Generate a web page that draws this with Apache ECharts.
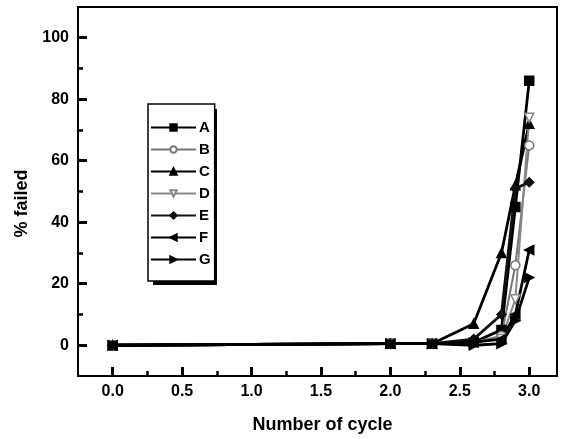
<!DOCTYPE html>
<html><head><meta charset="utf-8">
<script src="https://cdn.jsdelivr.net/npm/echarts@6/dist/echarts.min.js"></script>
<style>html,body{margin:0;padding:0;background:#fff}#c{width:563px;height:439px}</style>
</head><body><div id="c"></div>
<script>
const cycles = [0, 2.0, 2.3, 2.6, 2.8, 2.9, 3.0];
const seriesNames = ['A','B','C','D','E','F','G'];
const valuesA = [0, 0.5, 0.5, 1, 5, 45, 86];
const valuesB = [0, 0.5, 0.5, 1, 3, 26, 65];
const valuesC = [0, 0.5, 0.5, 7, 30, 52, 72];
const valuesD = [0, 0.5, 0.5, 1, 2, 15, 74];
const valuesE = [0, 0.5, 0.5, 2, 10, 51, 53];
const valuesF = [0, 0.5, 0.5, 1, 2, 10, 31];
const valuesG = [0, 0.5, 0.5, 0, 0.5, 8, 22];
const xMajorTicks = [0, 0.5, 1.0, 1.5, 2.0, 2.5, 3.0];
const xMinorTicks = [0.25, 0.75, 1.25, 1.75, 2.25, 2.75];
const yMajorTicks = [0, 20, 40, 60, 80, 100];
const yMinorTicks = [10, 30, 50, 70, 90];

const allValues = [valuesA, valuesB, valuesC, valuesD, valuesE, valuesF, valuesG];
const symbols = ['rect', 'circle', 'triangle', 'path://M0,0 L10,0 L5,10 Z', 'diamond',
  'path://M10,0 L0,5 L10,10 Z', 'path://M0,0 L10,5 L0,10 Z'];
const filled = [true, false, true, false, true, true, true];
const lineColors = ['#000', '#777', '#000', '#888', '#111', '#000', '#000'];
const font = 'Liberation Sans, Arial, sans-serif';
const tickLbl = {fontFamily: font, fontWeight: 'bold', fontSize: 16, color: '#000'};
const titleLbl = {fontFamily: font, fontWeight: 'bold', fontSize: 18, color: '#000'};

const chart = echarts.init(document.getElementById('c'));
const series = seriesNames.map((n, i) => ({
  name: n, type: 'line', xAxisIndex: 0, yAxisIndex: 0,
  data: cycles.map((x, j) => [x, allValues[i][j]]),
  symbol: symbols[i], symbolSize: 9,
  lineStyle: {color: lineColors[i], width: i === 1 || i === 3 ? 2 : 2.8},
  itemStyle: {color: filled[i] ? lineColors[i] : '#fff', borderColor: lineColors[i], borderWidth: 1.5},
  emphasis: {disabled: true}, animation: false
}));

// tick-only overlay axes (tiny offset keeps the tick marks from being dropped)
function tickAxis(min, max, pos, vals, len, w) {
  return {
    type: 'value', min: min, max: max, position: pos, gridIndex: 0,
    axisLine: {show: false, onZero: false},
    axisTick: {show: true, inside: true, length: len, customValues: vals.map(v => v + (max - min) * 1e-5),
      lineStyle: {color: '#000', width: w}},
    axisLabel: {show: false}, splitLine: {show: false}
  };
}

chart.setOption({
  animation: false,
  grid: {left: 78, top: 7, width: 479, height: 371, show: true, borderColor: '#000', borderWidth: 2, backgroundColor: 'transparent'},
  xAxis: [{
    type: 'value', min: -0.25, max: 3.2, position: 'bottom',
    name: 'Number of cycle', nameLocation: 'middle', nameGap: 40,
    nameTextStyle: {...titleLbl, padding: [0, 0, 0, 10]},
    axisLine: {show: true, onZero: false, lineStyle: {color: '#000', width: 2}},
    axisTick: {show: false},
    axisLabel: {customValues: xMajorTicks, margin: 8, ...tickLbl, formatter: v => v.toFixed(1)},
    splitLine: {show: false}
  }, tickAxis(-0.25, 3.2, 'bottom', xMinorTicks, 5, 2.5),
     tickAxis(-0.25, 3.2, 'bottom', xMajorTicks, 9, 3)],
  yAxis: [{
    type: 'value', min: -10, max: 110, position: 'left',
    name: '% failed', nameLocation: 'middle', nameGap: 45,
    nameTextStyle: {...titleLbl, padding: [0, 24, 0, 0]},
    axisLine: {show: true, onZero: false, lineStyle: {color: '#000', width: 2}},
    axisTick: {show: false},
    axisLabel: {customValues: yMajorTicks, margin: 9, ...tickLbl},
    splitLine: {show: false}
  }, tickAxis(-10, 110, 'left', yMinorTicks, 5, 2.5),
     tickAxis(-10, 110, 'left', yMajorTicks, 9, 3)],
  legend: {
    data: seriesNames, orient: 'vertical', left: 148, top: 104, z: 5,
    padding: [16, 4, 14, 2], itemGap: 7, itemWidth: 45, itemHeight: 8,
    borderColor: '#000', borderWidth: 1.5, backgroundColor: '#fff',
    textStyle: {fontFamily: font, fontWeight: 'bold', fontSize: 15, color: '#000', padding: [0, 0, 0, -2]}
  },
  graphic: [{
    type: 'rect', left: 153, top: 109, z: -1, silent: true,
    shape: {width: 64, height: 176}, style: {fill: '#000'}
  }],
  series: series
});
</script></body></html>
